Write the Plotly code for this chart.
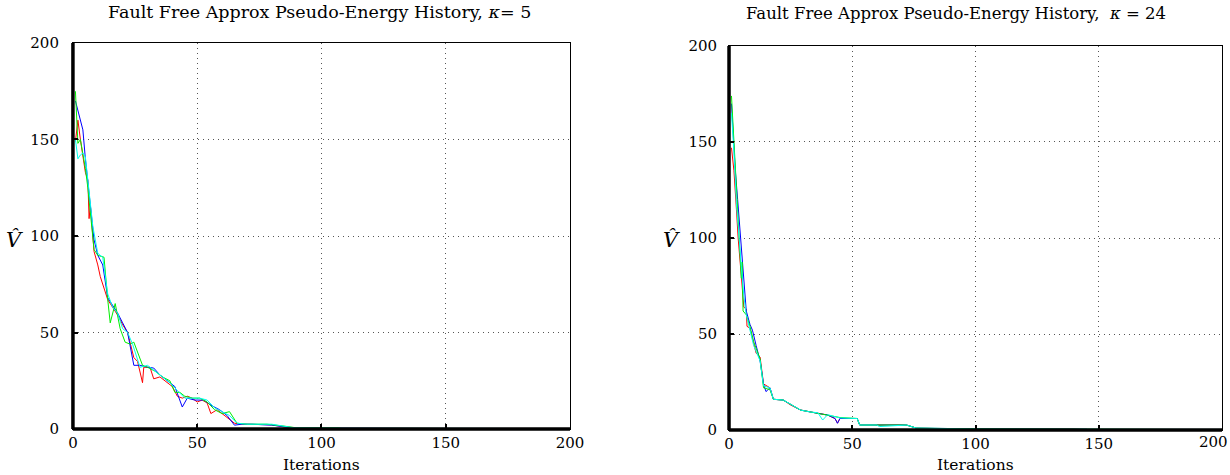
import plotly.graph_objects as go

# ---------------- data ----------------
# Left panel, kappa = 5
red5_x = [1,2,3,4,5,6,6.5,7,8.5,10,11,14,16,18.5,20,22,24.5,26,28,28.5,31,32.5,35,38,40,42,44,46,48,50,52,54,55.5,58,60,62,65,68,75,80,85,90,100,120,130,131,200]
red5_y = [149,160,150,140,133,129,109,116,92,85,79,67,63,58,54,50,37,35,24,32,32,26,27,24,22,17,16,17,16,14,15,13.5,8,10,8,6,3,2.5,2.5,2.2,1,0.7,0.5,0.4,0.4,0.1,0.1]

blue5_x = [1,2,3,4,5,6,7,8.5,10,12,14,16,18,20,22,24.5,27,30,32.5,35,38,41,44,46,49,52.6,56,59,62,65,68,72,80,88,90,100,130,132,200]
blue5_y = [170,165,160,155,140,128,117,98,90,85,68,64,60,55,50,33,33,32,31.6,28,25,22,11.4,16,15,15,12,10,7,2,2.5,2.5,2,1,0.4,0.4,0.3,0.1,0.1]

green5_x = [1,2,3,4,5,6,7,8.5,10,12.5,14,15,17,19,21,23,24.5,26,28,30,33,36,39,41,43,45,48,51,54,57,60,63,66,70,78,85,90,107,108,130,200]
green5_y = [175,148,150,143,135,125,112,93,90,89,67,55,65,52,45,44,45,40,33,32,30,27,25,19,19,17,16,16,14,10,8,9,3,2.5,2.5,1.5,0.6,0.6,0.2,0.3,0.2]

cyan5_x = [1,2,3,4,5,6,7,8,10,12,14,16,18,20,22,24,27,30,33,36,39,42,45,48,51,54,57,60,63,66,70,80,89,100,130,132,200]
cyan5_y = [150,140,142,143,141,128,115,105,91,89,70,63,60,52,50,44,32,33,30,27,24,20,16,16,16,15,11,9,7,3,2.5,2.5,0.6,0.5,0.5,0.2,0.2]

# Right panel, kappa = 24
red24_x = [1,2,3,3.7,5,6,7,7.3,8.5,10,11,12.6,14,16.6,18,22,25,29,33,36,40,43,44,45,48,52,53,60,72,76,90,120,140,145,146,200]
red24_y = [147,135,115,100,80,64,63,54,53,45,40,38,24,22,16,15.6,13,10.4,9.4,9,7.8,6,3.6,6,6,6,2.6,2.6,2.6,1,0.6,0.5,0.5,0.1,0.1,0.1]

blue24_x = [1,2,2.5,3.5,5,6,7,8.5,9.5,11,12.6,14,15,16.6,18,22,29,33,40,43,44,45,52,53,72,76,100,145,146,200]
blue24_y = [170,145,136,120,95,75,62,55,52,44,36,24,20,22,16,15.6,10.4,9.4,7.8,6,3.5,6,6,2.6,2.6,1,0.6,0.4,0.1,0.1]

green24_x = [1,2,3,4,5,5.3,5.7,7,8.5,10,12.6,14,16.6,18,22,29,33,40,45,52,53,72,76,100,148,200]
green24_y = [174,150,120,100,79,87.5,62,60,54,46,37,22,21,16,15.6,10.4,9.4,7.8,6.5,6,2.6,2.6,1,0.6,0.3,0.2]

cyan24_x = [1,2,3,4,5,6,7,8.5,10,12.6,14,16.6,18,22,29,33,36,38,40,45,52,53,60,61,72,76,100,200]
cyan24_y = [165,145,118,100,85,70,60,52,44,36,23,22,16,15.6,10.4,9.4,9,5.2,8,6.3,6,2.6,2.6,1.8,2.6,1,0.5,0.3]

tick_vals = [0, 50, 100, 150, 200]
tick_text = ["0", "50", "100", "150", "200"]
titles = ["Fault Free Approx Pseudo-Energy History, <i>κ</i>= 5",
          "Fault Free Approx Pseudo-Energy History,  <i>κ</i> = 24"]

colors = ["#ff0000", "#0000ff", "#00ee00", "#00ffee"]
FONT = "DejaVu Serif"

fig = go.Figure()

panels = [
    ("x", "y", [(red5_x, red5_y), (blue5_x, blue5_y), (green5_x, green5_y), (cyan5_x, cyan5_y)]),
    ("x2", "y2", [(red24_x, red24_y), (blue24_x, blue24_y), (green24_x, green24_y), (cyan24_x, cyan24_y)]),
]
for xa, ya, series in panels:
    for (sx, sy), c in zip(series, colors):
        fig.add_trace(go.Scatter(x=sx, y=sy, mode="lines", xaxis=xa, yaxis=ya,
                                 line=dict(color=c, width=1), showlegend=False,
                                 hoverinfo="skip"))

tick_font = dict(family=FONT, size=15, color="black")
axis_common = dict(range=[0, 200], tickvals=tick_vals,
                   showgrid=True, gridcolor="#555555", griddash="1px,4px", gridwidth=1,
                   showline=True, linecolor="black", linewidth=1, mirror=True,
                   ticks="inside", ticklen=5, tickcolor="black", tickwidth=1.5,
                   zeroline=False, automargin=False, ticklabeloverflow="allow",
                   tickfont=tick_font)

# last x tick label of the right panel is drawn separately so it stays on the page
tick_text_right_x = tick_text[:-1] + [""]

fig.update_layout(
    width=1230, height=475,
    margin=dict(l=0, r=0, t=0, b=0, autoexpand=False),
    paper_bgcolor="white", plot_bgcolor="white",
    font=dict(family=FONT),
    xaxis=dict(domain=[0.0593, 0.4634], anchor="y", ticktext=tick_text, **axis_common),
    yaxis=dict(domain=[0.0968, 0.9095], anchor="x", ticktext=tick_text, ticklabelstandoff=10, **axis_common),
    xaxis2=dict(domain=[0.5927, 0.9935], anchor="y2", ticktext=tick_text_right_x, **axis_common),
    yaxis2=dict(domain=[0.0947, 0.9032], anchor="x2", ticktext=tick_text, ticklabelstandoff=8, **axis_common),
)

fig.add_annotation(text=tick_text[-1], x=tick_vals[-1], y=0, xref="x2", yref="y2 domain",
                   showarrow=False, font=tick_font, xanchor="right", yanchor="top",
                   xshift=8, yshift=-1)

# thick left and bottom frame lines
for xr, yr in [("x domain", "y domain"), ("x2 domain", "y2 domain")]:
    fig.add_shape(type="line", xref=xr, yref=yr, x0=0, x1=0, y0=0, y1=1,
                  line=dict(color="black", width=3.5))
    fig.add_shape(type="line", xref=xr, yref=yr, x0=0, x1=1, y0=0, y1=0,
                  line=dict(color="black", width=3.5))

fig.add_annotation(text=titles[0], x=0.26, y=0.975, xref="paper", yref="paper",
                   showarrow=False, font=dict(family=FONT, size=17.5, color="black"),
                   xanchor="center", yanchor="middle")
fig.add_annotation(text=titles[1], x=0.777, y=0.971, xref="paper", yref="paper",
                   showarrow=False, font=dict(family=FONT, size=16.5, color="black"),
                   xanchor="center", yanchor="middle")
for xc in [0.261, 0.793]:
    fig.add_annotation(text="Iterations", x=xc, y=0.022, xref="paper", yref="paper",
                       showarrow=False, font=dict(family=FONT, size=15.5, color="black"),
                       xanchor="center", yanchor="middle")
for xc in [0.012, 0.546]:
    fig.add_annotation(text="<i>V̂</i>", x=xc, y=0.495, xref="paper", yref="paper",
                       showarrow=False, font=dict(family=FONT, size=21, color="black"),
                       xanchor="center", yanchor="middle")

fig.write_html("out.html")
